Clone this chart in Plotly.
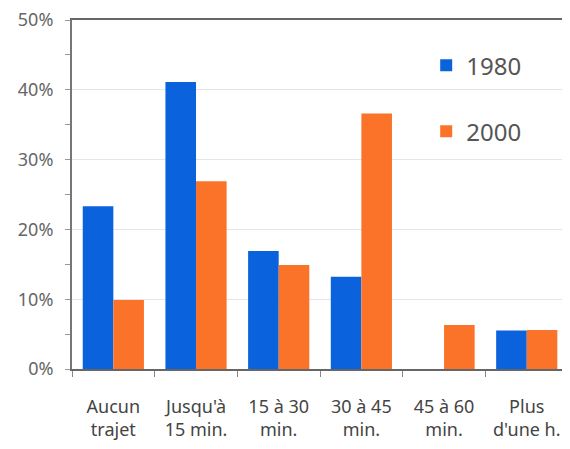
import plotly.graph_objects as go

categories = ["Aucun<br>trajet", "Jusqu'à<br>15 min.", "15 à 30<br>min.", "30 à 45<br>min.", "45 à 60<br>min.", "Plus<br>d'une h."]
values_1980 = [0.233, 0.411, 0.169, 0.132, 0.0, 0.055]
values_2000 = [0.099, 0.269, 0.149, 0.366, 0.063, 0.056]
y_ticks = [0, 0.1, 0.2, 0.3, 0.4, 0.5]
y_tick_labels = ["0%", "10%", "20%", "30%", "40%", "50%"]

fig = go.Figure()
fig.add_trace(go.Bar(x=categories, y=values_1980, name="1980", marker_color="#0a63dc",
                     marker_line_width=0, legendgroup="a"))
fig.add_trace(go.Bar(x=categories, y=values_2000, name="2000", marker_color="#fb7328",
                     marker_line_width=0, legendgroup="b"))

fig.update_layout(
    width=570, height=449,
    margin=dict(l=64, r=0, t=12, b=88, autoexpand=False),
    paper_bgcolor="white", plot_bgcolor="white",
    barmode="group", bargap=0.26, bargroupgap=0,
    font=dict(family="Noto Sans, sans-serif", size=18, color="#444"),
    legend=dict(x=0.70, y=0.934, xanchor="left", yanchor="top",
                font=dict(size=24, color="#555"), tracegroupgap=32,
                traceorder="grouped", bgcolor="rgba(0,0,0,0)", itemwidth=30),
    xaxis=dict(range=[-0.5, 5.62], showline=True, linecolor="#666", linewidth=2, mirror=True,
               ticks="outside", tickson="boundaries", ticklen=6, tickcolor="#888",
               ticklabelstandoff=20, showgrid=False, tickfont=dict(size=18, color="#444"),
               ticklabeloverflow="allow"),
    yaxis=dict(range=[0, 0.5], tickvals=y_ticks, ticktext=y_tick_labels,
               showline=True, linecolor="#777", linewidth=2, ticks="outside", ticklen=5,
               tickcolor="#999", showgrid=True, gridcolor="#e4e4ee", gridwidth=1,
               minor=dict(dtick=0.05, ticks="outside", ticklen=5, tickcolor="#999", showgrid=False),
               zeroline=False, tickfont=dict(size=18, color="#666"), ticklabelstandoff=8,
               ticklabeloverflow="allow"),
)

fig.write_html("out.html")
